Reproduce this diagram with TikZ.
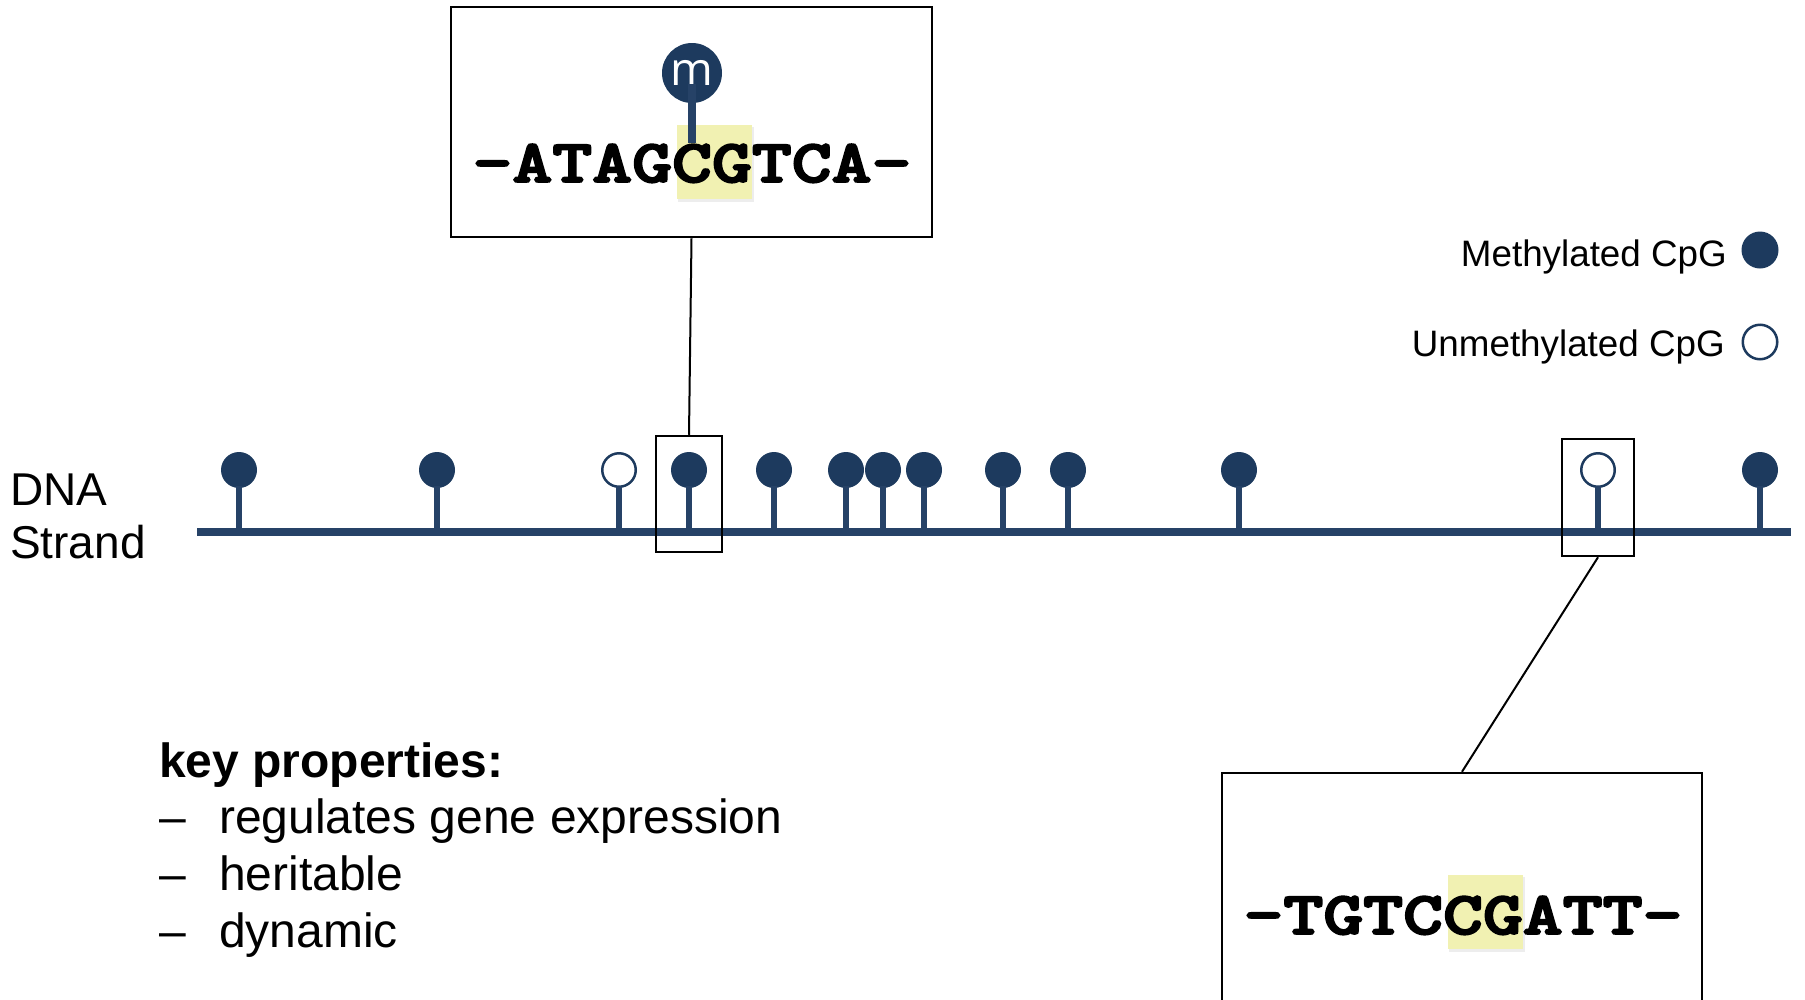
\documentclass[tikz,border=0pt]{standalone}
\usepackage{fontspec}
\setmainfont{Liberation Sans}
\newfontfamily\mfont{Open Sans}
\newfontfamily\seqf{lmmonolt10-bold.otf}[FakeBold=3]
\usepackage{graphicx}
\definecolor{navy}{RGB}{29,58,94}
\definecolor{stemc}{RGB}{38,66,103}
\definecolor{hlc}{RGB}{241,241,178}
\newcommand\seqfont{\seqf\fontsize{76}{76}\selectfont}
\begin{document}
\begin{tikzpicture}[x=1pt,y=-1pt,
  box/.style={draw=black, line width=2.5pt, inner sep=0pt, rectangle},
  conn/.style={draw=black, line width=2pt},
  mhead/.style={circle, fill=navy, inner sep=0pt, minimum size=36pt},
  uhead/.style={circle, draw=navy, line width=2.5pt, fill=white, inner sep=0pt, minimum size=33.5pt},
  stemline/.style={draw=stemc, line width=6.5pt},
  seq/.style={inner sep=0pt, font=\seqfont},
  lbl/.style={inner sep=0pt, font=\fontsize{36.8}{40}\selectfont},
  dnalbl/.style={inner sep=0pt, font=\fontsize{46}{50}\selectfont},
  keytxt/.style={inner sep=0pt, font=\fontsize{48}{50}\selectfont},
  hlbox/.style={fill=hlc},
  hlshadow/.style={fill=black, opacity=0.07}
]
\useasboundingbox (0,0) rectangle (1805,999);
\clip (0,0) rectangle (1805,999);

% --- top zoom box ---
\node[box, minimum width=481pt, minimum height=230pt] (topbox) at (691.5,122) {};
\fill[hlshadow] (678,127) rectangle (754,202);
\fill[hlbox] (677,125) rectangle (752,199);
\node[seq, anchor=base] (seq1) at (692,182) {\scalebox{1}[0.8]{–ATAGCGTCA–}};
\node[circle, fill=navy, minimum size=60pt, inner sep=0pt, text=white,
      font=\mfont\fontsize{46}{46}\selectfont] (mc) at (692,73) {m};
\coordinate (ms1) at (692,84);
\coordinate (ms2) at (692,143);
\draw[draw=stemc, line width=8pt] (ms1) -- (ms2);

% --- bottom zoom box ---
\node[box, minimum width=480pt, minimum height=282pt] (botbox) at (1462,914) {};
\fill[hlshadow] (1449,877) rectangle (1525,952);
\fill[hlbox] (1448,875) rectangle (1523,949);
\node[seq, anchor=base] (seq2) at (1463,934) {\scalebox{1}[0.8]{–TGTCCGATT–}};

% --- DNA strand ---
\node[fill=stemc, minimum width=1594pt, minimum height=8pt, inner sep=0pt] (strand) at (994,532) {};
\foreach \i/\x/\s in {1/239/mhead, 2/437/mhead, 3/619/uhead, 4/689/mhead, 5/774/mhead,
                      6/846/mhead, 7/883/mhead, 8/924/mhead, 9/1003/mhead, 10/1068/mhead,
                      11/1239/mhead, 12/1598/uhead, 13/1760/mhead} {
  \node[\s] (p\i) at (\x,470) {};
  \draw[stemline] ([yshift=2pt]p\i.south) -- (p\i |- strand.center);
}

% --- small boxes ---
\node[box, minimum width=66pt, minimum height=116pt] (sbox1) at (689,494) {};
\node[box, minimum width=72pt, minimum height=117pt] (sbox2) at (1598,497.5) {};

% --- connectors ---
\draw[conn] (topbox.south) -- (sbox1.north);
\draw[conn] (sbox2.south) -- (botbox.north);

% --- DNA label ---
\node[dnalbl, anchor=base west] (dna1) at (10,505) {DNA};
\node[dnalbl, anchor=base west] (dna2) at (10,558) {Strand};

% --- legend ---
\node[mhead, minimum size=37pt] (lm) at (1760,250) {};
\node[uhead, minimum size=34.5pt] (lu) at (1760,342) {};
\node[lbl, anchor=base east] (lt1) at (1727,266) {Methylated CpG};
\node[lbl, anchor=base east] (lt2) at (1725,356) {Unmethylated CpG};

% --- key properties ---
\node[keytxt, anchor=base west, font=\fontsize{48}{50}\selectfont\bfseries] (kp) at (159,777) {key properties:};
\node[keytxt, anchor=base west] (d1) at (159,833) {–};
\node[keytxt, anchor=base west] (k1) at (219,833) {regulates gene expression};
\node[keytxt, anchor=base west] (d2) at (159,890) {–};
\node[keytxt, anchor=base west] (k2) at (219,890) {heritable};
\node[keytxt, anchor=base west] (d3) at (159,947) {–};
\node[keytxt, anchor=base west] (k3) at (219,947) {dynamic};
\end{tikzpicture}
\end{document}
